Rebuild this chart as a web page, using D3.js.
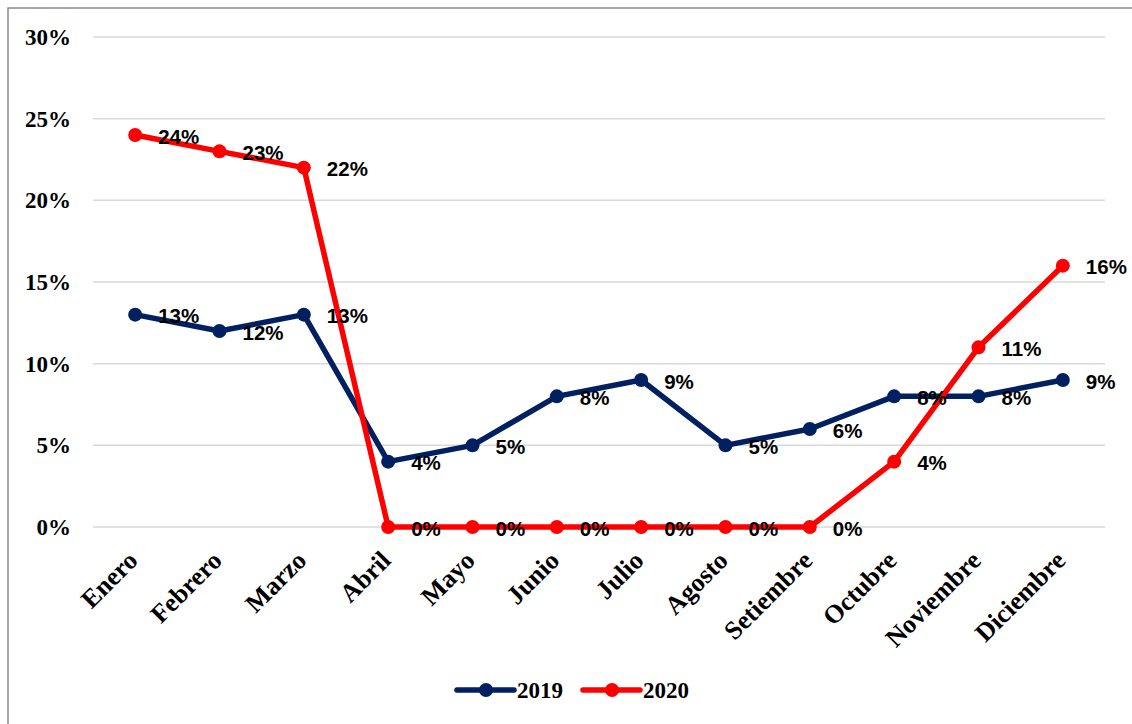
<!DOCTYPE html>
<html><head><meta charset="utf-8">
<script src="https://cdn.jsdelivr.net/npm/d3@7"></script>
<style>body{margin:0;background:#fff}svg{display:block}</style>
</head><body>
<svg id="c" width="1132" height="724"></svg>
<script>
const categories = ["Enero","Febrero","Marzo","Abril","Mayo","Junio","Julio","Agosto","Setiembre","Octubre","Noviembre","Diciembre"];
const values2019 = [0.13,0.12,0.13,0.04,0.05,0.08,0.09,0.05,0.06,0.08,0.08,0.09];
const values2020 = [0.24,0.23,0.22,0,0,0,0,0,0,0.04,0.11,0.16];
const yTicks = [0,0.05,0.10,0.15,0.20,0.25,0.30];
const seriesNames = ["2019","2020"];
const colors = ["#002060","#FF0000"];

const svg = d3.select("#c");
svg.append("rect").attr("x",8).attr("y",8).attr("width",1140).attr("height",740)
  .attr("fill","#fff").attr("stroke","#898989").attr("stroke-width",1.5);

const x = d3.scaleBand().domain(categories).range([93,1105]);
const y = d3.scaleLinear().domain([0,0.30]).range([527,37]);
const serif = "'Liberation Serif','Times New Roman',serif";
const sans = "'Liberation Sans',Arial,sans-serif";

// gridlines
svg.append("g").selectAll("line").data(yTicks).join("line")
  .attr("x1",93).attr("x2",1105).attr("y1",d=>y(d)).attr("y2",d=>y(d))
  .attr("stroke","#d9d9d9").attr("stroke-width",1.5);

// y axis
const ya = svg.append("g").attr("transform","translate(93,0)")
  .call(d3.axisLeft(y).tickValues(yTicks).tickFormat(d3.format(".0%")).tickSize(0).tickPadding(22));
ya.select(".domain").remove();
ya.selectAll("text").attr("font-family",serif).attr("font-weight","bold").attr("font-size",23).attr("fill","#000").attr("dy","0.33em");

// x axis
const xa = svg.append("g").attr("transform","translate(0,527)")
  .call(d3.axisBottom(x).tickSize(0).tickPadding(0));
xa.select(".domain").remove();
xa.selectAll("text").attr("font-family",serif).attr("font-weight","bold").attr("font-size",26).attr("fill","#000")
  .attr("text-anchor","end").attr("dy",0).attr("transform","translate(4,35) rotate(-45)");

const series = [values2019, values2020];
const line = d3.line().x((d,i)=>x(categories[i])+x.bandwidth()/2).y(d=>y(d));
series.forEach((vals,si)=>{
  const g = svg.append("g");
  g.append("path").datum(vals).attr("d",line).attr("fill","none")
    .attr("stroke",colors[si]).attr("stroke-width",5.5).attr("stroke-linejoin","round");
  g.selectAll("circle").data(vals).join("circle")
    .attr("cx",(d,i)=>x(categories[i])+x.bandwidth()/2).attr("cy",d=>y(d)).attr("r",7).attr("fill",colors[si]);
});
series.forEach((vals,si)=>{
  svg.append("g").selectAll("text").data(vals).join("text")
    .attr("x",(d,i)=>x(categories[i])+x.bandwidth()/2+23).attr("y",d=>y(d)+8.5)
    .attr("font-family",sans).attr("font-weight","bold").attr("font-size",20.5).attr("fill","#000")
    .text(d=>d3.format(".0%")(d));
});

// legend
const leg = svg.append("g");
const lx = [457,583];
seriesNames.forEach((n,i)=>{
  leg.append("line").attr("x1",lx[i]).attr("x2",lx[i]+57).attr("y1",690).attr("y2",690)
    .attr("stroke",colors[i]).attr("stroke-width",5.5).attr("stroke-linecap","round");
  leg.append("circle").attr("cx",lx[i]+29).attr("cy",690).attr("r",7).attr("fill",colors[i]);
  leg.append("text").attr("x",lx[i]+60).attr("y",698).attr("font-family",serif).attr("font-weight","bold")
    .attr("font-size",23).attr("fill","#000").text(n);
});
</script>
</body></html>
